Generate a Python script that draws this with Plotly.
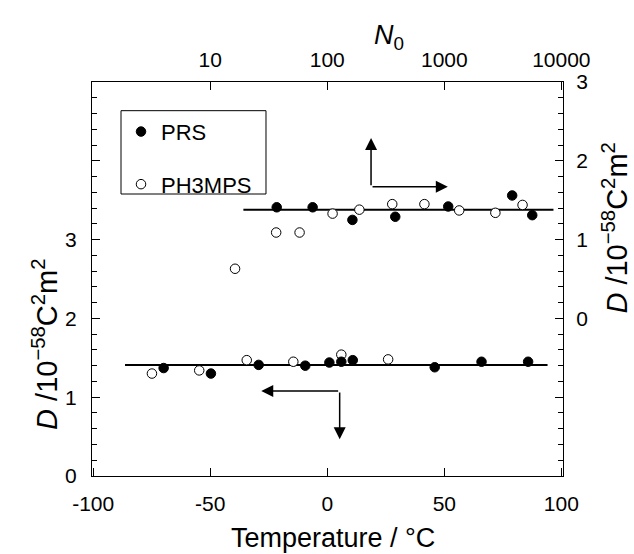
import plotly.graph_objects as go

# ---- data ----
# upper set: D (right axis) vs N0 (top, log axis)
prs_N = [37, 75, 164, 381, 1080, 3800, 5640]
prs_N_D = [1.41, 1.41, 1.25, 1.29, 1.42, 1.56, 1.31]
ph_N = [16.3, 36.6, 58, 111, 188, 359, 676, 1340, 2730, 4660]
ph_N_D = [0.63, 1.09, 1.09, 1.33, 1.38, 1.45, 1.45, 1.37, 1.34, 1.44]
fit_N = [19.2, 8560]
fit_N_D = [1.38, 1.38]

# lower set: D (left axis) vs temperature (bottom axis)
prs_T = [-69.9, -49.7, -29.3, -9.4, 0.9, 6.0, 10.9, 45.9, 65.9, 85.8]
prs_T_D = [1.37, 1.30, 1.41, 1.40, 1.44, 1.45, 1.47, 1.38, 1.45, 1.45]
ph_T = [-74.9, -54.7, -34.4, -14.5, 6.0, 26.0]
ph_T_D = [1.30, 1.34, 1.47, 1.45, 1.54, 1.48]
fit_T = [-86.4, 94.1]
fit_T_D = [1.41, 1.41]

x_ticks = [-100, -50, 0, 50, 100]
x_text = ["-100", "-50", "0", "50", "100"]
top_ticks = [10, 100, 1000, 10000]
top_text = ["10", "100", "1000", "10000"]
left_ticks = [0, 1, 2, 3, 4, 5]
left_text = ["0", "1", "2", "3", "", ""]
right_ticks = [-2, -1, 0, 1, 2, 3]
right_text = ["", "", "0", "1", "2", "3"]

XMIN, XMAX = -100.5, 100.7
FONT = "Liberation Sans, Arial, Helvetica, sans-serif"

fig = go.Figure()

# fit lines
fig.add_trace(go.Scatter(x=fit_T, y=fit_T_D, mode="lines",
                         line=dict(color="black", width=2), showlegend=False,
                         xaxis="x", yaxis="y", hoverinfo="skip"))
fig.add_trace(go.Scatter(x=fit_N, y=fit_N_D, mode="lines",
                         line=dict(color="black", width=2), showlegend=False,
                         xaxis="x2", yaxis="y2", hoverinfo="skip"))

open_marker = dict(symbol="circle", size=9.5, color="white",
                   line=dict(color="black", width=1))
fill_marker = dict(symbol="circle", size=9.5, color="black",
                   line=dict(color="black", width=1))

# open circles first (filled drawn on top)
fig.add_trace(go.Scatter(x=ph_T, y=ph_T_D, mode="markers", marker=open_marker,
                         name="PH3MPS", legendgroup="b", legendrank=2,
                         xaxis="x", yaxis="y"))
fig.add_trace(go.Scatter(x=ph_N, y=ph_N_D, mode="markers", marker=open_marker,
                         name="PH3MPS", legendgroup="b", showlegend=False,
                         xaxis="x2", yaxis="y2"))
fig.add_trace(go.Scatter(x=prs_T, y=prs_T_D, mode="markers", marker=fill_marker,
                         name="PRS", legendgroup="a", legendrank=1,
                         xaxis="x", yaxis="y"))
fig.add_trace(go.Scatter(x=prs_N, y=prs_N_D, mode="markers", marker=fill_marker,
                         name="PRS", legendgroup="a", showlegend=False,
                         xaxis="x2", yaxis="y2"))

axis_common = dict(showline=True, linecolor="black", linewidth=1,
                   showgrid=False, zeroline=False, ticks="inside",
                   tickcolor="black", tickwidth=1, ticklen=8,
                   tickfont=dict(family=FONT, size=21, color="black"))

fig.update_layout(
    width=634, height=554, autosize=False,
    margin=dict(l=92, r=71, t=82, b=78),
    paper_bgcolor="white", plot_bgcolor="white",
    font=dict(family=FONT, color="black"),
    xaxis=dict(range=[XMIN, XMAX], tickvals=x_ticks, ticktext=x_text,
               ticklabelstandoff=9, **axis_common),
    xaxis2=dict(type="log", overlaying="x", side="top",
                range=[(XMIN + 100) / 50, (XMAX + 100) / 50],
                tickvals=top_ticks, ticktext=top_text,
                ticklabelstandoff=6, **axis_common),
    yaxis=dict(range=[0, 5], tickvals=left_ticks, ticktext=left_text,
               ticklabelstandoff=10,
               minor=dict(ticks="inside", dtick=0.2, ticklen=5,
                          tickcolor="black", tickwidth=1),
               **axis_common),
    yaxis2=dict(range=[-2, 3], overlaying="y", side="right",
                tickvals=right_ticks, ticktext=right_text,
                ticklabelstandoff=8,
                minor=dict(ticks="inside", dtick=0.2, ticklen=5,
                           tickcolor="black", tickwidth=1),
                **axis_common),
    legend=dict(x=0.0616, y=0.927, xanchor="left", yanchor="top",
                borderwidth=0, bgcolor="rgba(0,0,0,0)",
                font=dict(family=FONT, size=22, color="black"),
                tracegroupgap=21, itemsizing="trace"),
    showlegend=True,
)

# legend frame
fig.add_shape(type="rect", xref="paper", yref="paper",
              x0=0.0616, x1=0.3694, y0=0.7157, y1=0.9272,
              line=dict(color="black", width=1), fillcolor="rgba(0,0,0,0)",
              layer="above")

title_font = dict(family=FONT, size=29, color="black")
d_label = "<i>D</i> /10<sup>\u221258</sup>C<sup>2</sup>m<sup>2</sup>"
fig.add_annotation(text="Temperature / \u00b0C", xref="paper", yref="paper",
                   x=0.5117, y=-0.157, xanchor="center", yanchor="middle",
                   showarrow=False, font=dict(family=FONT, size=27, color="black"))
fig.add_annotation(text="<i>N</i><sub>0</sub>", xref="paper", yref="paper",
                   x=0.63, y=1.115, xanchor="center", yanchor="middle",
                   showarrow=False, font=dict(family=FONT, size=27, color="black"))
fig.add_annotation(text=d_label, xref="paper", yref="paper",
                   x=-0.1, y=0.335, xanchor="center", yanchor="middle",
                   textangle=-90, showarrow=False, font=title_font)
fig.add_annotation(text=d_label, xref="paper", yref="paper",
                   x=1.11, y=0.63, xanchor="center", yanchor="middle",
                   textangle=-90, showarrow=False, font=title_font)

# L-shaped arrows (corner, tips) in axis units
upper_corner = (18.7, 3.67)
upper_tips = [(18.7, 4.29), (51.5, 3.67)]
lower_corner = (5.3, 1.08)
lower_tips = [(-28.2, 1.08), (5.3, 0.467)]
for corner, tips in [(upper_corner, upper_tips), (lower_corner, lower_tips)]:
    for tx, ty in tips:
        fig.add_annotation(x=tx, y=ty, xref="x", yref="y",
                           ax=corner[0], ay=corner[1], axref="x", ayref="y",
                           showarrow=True, arrowhead=2, arrowsize=1.6,
                           arrowwidth=1.5, arrowcolor="black", text="",
                           standoff=0, startstandoff=0)

fig.write_html("out.html",
               config={"displayModeBar": False},
               post_script="document.body.style.margin='0';"
                           "document.body.style.overflow='hidden';")
